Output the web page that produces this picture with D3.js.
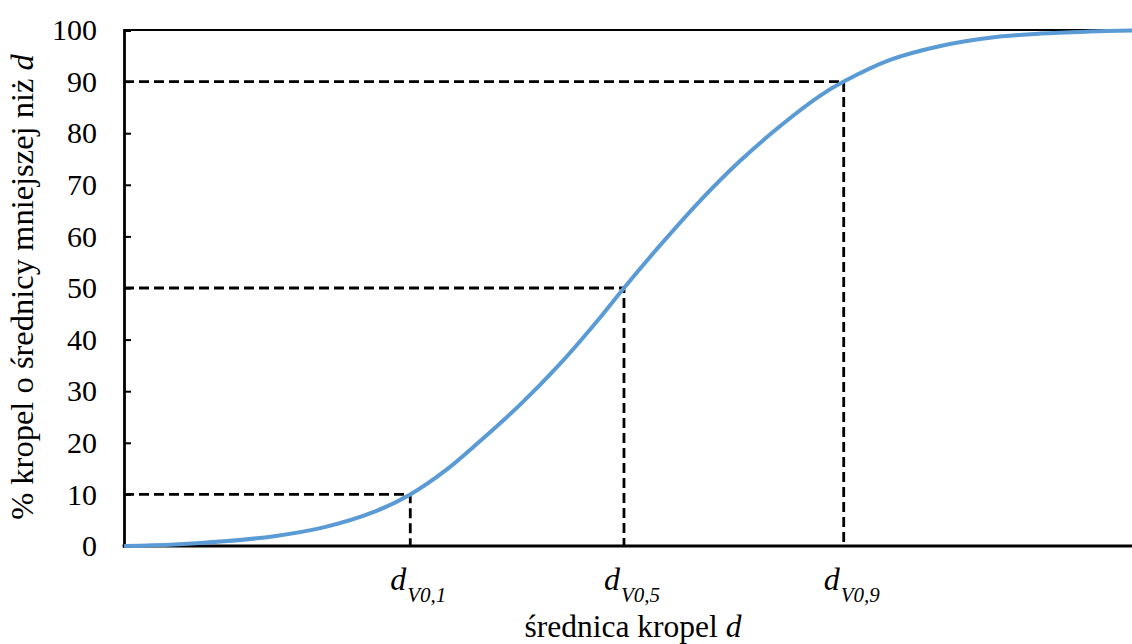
<!DOCTYPE html>
<html><head><meta charset="utf-8">
<script src="https://cdn.jsdelivr.net/npm/d3@7"></script>
<style>body{margin:0;background:#fff}</style>
</head><body><svg id="c" width="1132" height="644"></svg>
<script>
// diameter (relative 0-100) and cumulative %
const diam = [0, 5, 9.9, 14.9, 19.8, 24.8, 28.4, 32, 35.3, 39.3, 43.3, 47.2, 49.6, 53.2, 57.1, 61.1, 65.1, 69.0, 71.4, 76, 81, 85.9, 90.9, 95.8, 100];
const pct  = [0, 0.3, 0.9, 1.9, 3.6, 6.6, 10, 14.8, 20.3, 27.4, 35.4, 44.2, 50, 58.3, 66.8, 74.6, 81.4, 87.2, 90, 94.2, 96.9, 98.5, 99.3, 99.7, 99.9];
const markerD = [28.4, 49.6, 71.4];
const markerP = [10, 50, 90];
const markerSub = ["V0,1", "V0,5", "V0,9"];
const yTicks = [0,10,20,30,40,50,60,70,80,90,100];

const FONT = "Liberation Serif";
const svg = d3.select("#c");
const x = d3.scaleLinear().domain([0,100]).range([124,1132]);
const y = d3.scaleLinear().domain([0,100]).range([546,30]);

// dashed guides
markerD.forEach((d,i)=>{
  svg.append("path")
    .attr("d", `M${x(0)},${y(markerP[i])}H${x(d)}V${y(0)}`)
    .attr("fill","none").attr("stroke","#000").attr("stroke-width",2.8)
    .attr("stroke-dasharray","10,5");
});

// top line
svg.append("line").attr("x1",x(0)).attr("x2",x(100)).attr("y1",y(100)).attr("y2",y(100))
  .attr("stroke","#000").attr("stroke-width",2.2);

// y axis
const ya = svg.append("g").attr("transform",`translate(${x(0)},0)`)
  .call(d3.axisLeft(y).tickValues(yTicks).tickSize(-7).tickPadding(27));
ya.attr("font-family", FONT).attr("font-size",30);
ya.select(".domain").attr("stroke","#000").attr("stroke-width",2.8);
ya.selectAll(".tick line").attr("stroke","#000").attr("stroke-width",2);
ya.selectAll("text").attr("fill","#000");

// x axis (baseline only)
svg.append("line").attr("x1",x(0)-1.4).attr("x2",x(100)).attr("y1",y(0)).attr("y2",y(0))
  .attr("stroke","#000").attr("stroke-width",2.8);

// curve
svg.append("path").datum(diam.map((d,i)=>[d,pct[i]]))
  .attr("d", d3.line().x(d=>x(d[0])).y(d=>y(d[1])).curve(d3.curveCatmullRom.alpha(0.5)))
  .attr("fill","none").attr("stroke","#5B9BD5").attr("stroke-width",4);

// marker labels
markerD.forEach((d,i)=>{
  const t = svg.append("text").attr("x", x(d)-20).attr("y",590).attr("font-family",FONT)
    .attr("font-style","italic").attr("font-size",32).attr("fill","#000");
  t.append("tspan").text("d");
  t.append("tspan").attr("dy",12).attr("dx",1).attr("font-size",21).text(markerSub[i]);
});

// axis titles
const xt = svg.append("text").attr("x",633).attr("y",637).attr("text-anchor","middle")
  .attr("font-family",FONT).attr("font-size",31.5).attr("fill","#000");
xt.append("tspan").text("średnica kropel ");
xt.append("tspan").attr("font-style","italic").text("d");

const yt = svg.append("text").attr("transform","translate(33,287) rotate(-90)")
  .attr("font-family",FONT).attr("text-anchor","middle").attr("font-size",32.5).attr("fill","#000");
yt.append("tspan").text("% kropel o średnicy mniejszej niż ");
yt.append("tspan").attr("font-style","italic").text("d");
</script></body></html>
